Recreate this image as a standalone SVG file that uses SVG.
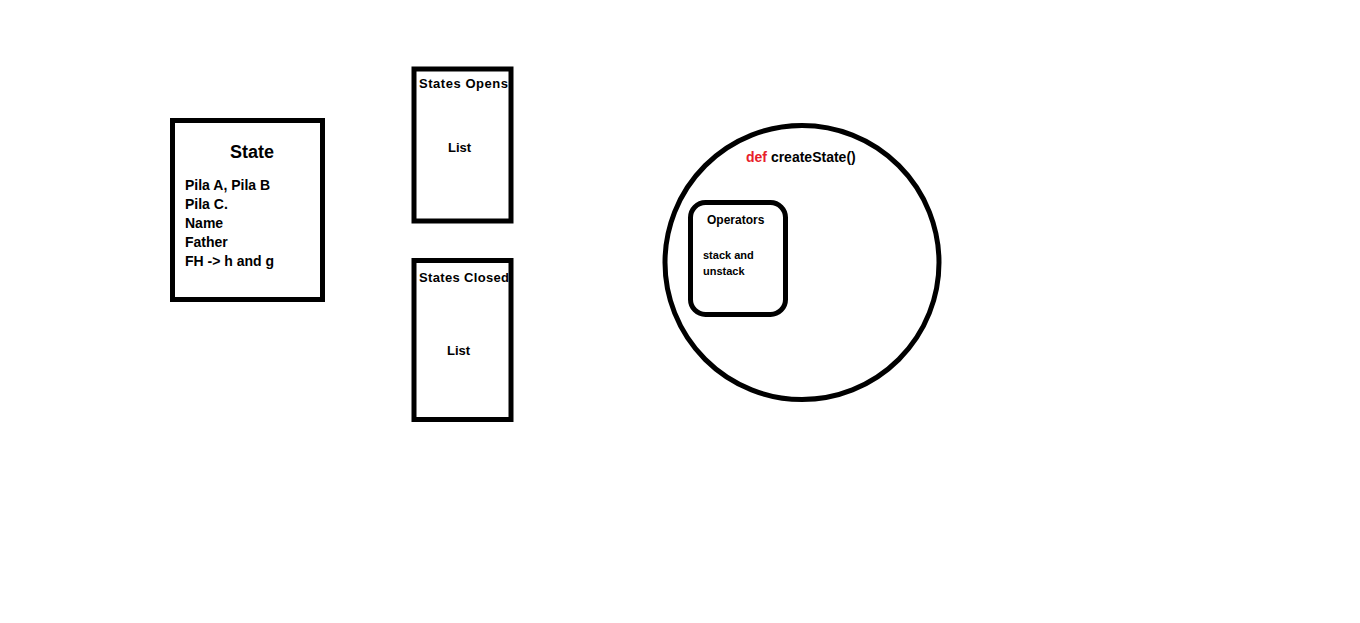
<svg xmlns="http://www.w3.org/2000/svg" width="1360" height="623" viewBox="0 0 1360 623">
<style>
.box{fill:#fff;stroke:#000;stroke-width:5}
.t{font-family:"Liberation Sans",Arial,sans-serif;font-weight:bold;fill:#000}
</style>
<rect width="1360" height="623" fill="#fff"/>
<g id="state">
<rect class="box" x="172.5" y="120.5" width="150" height="179"/>
<text class="t" x="252" y="158" font-size="18" text-anchor="middle">State</text>
<text class="t" x="185" y="190" font-size="14">Pila A, Pila B</text>
<text class="t" x="185" y="209" font-size="14">Pila C.</text>
<text class="t" x="185" y="228" font-size="14">Name</text>
<text class="t" x="185" y="247" font-size="14">Father</text>
<text class="t" x="185" y="266" font-size="14">FH -&gt; h and g</text>
</g>
<g id="opens">
<rect class="box" x="414" y="69" width="97" height="152"/>
<text class="t" x="419" y="88" font-size="13" textLength="89">States Opens</text>
<text class="t" x="448" y="152" font-size="13">List</text>
</g>
<g id="closed">
<rect class="box" x="414" y="260.5" width="97" height="159"/>
<text class="t" x="419" y="282" font-size="13" textLength="90">States Closed</text>
<text class="t" x="447" y="355" font-size="13">List</text>
</g>
<g id="createState">
<circle class="box" cx="802" cy="262.5" r="137" stroke-width="4.5"/>
<text class="t" x="746" y="162" font-size="14"><tspan fill="#e8202a">def</tspan> createState()</text>
</g>
<g id="operators">
<rect class="box" x="690.5" y="202.5" width="95" height="112" rx="15" stroke-width="4"/>
<text class="t" x="707" y="224" font-size="12">Operators</text>
<text class="t" x="703" y="259" font-size="11">stack and</text>
<text class="t" x="703" y="275" font-size="11">unstack</text>
</g>
<g id="connectors"></g>
</svg>
